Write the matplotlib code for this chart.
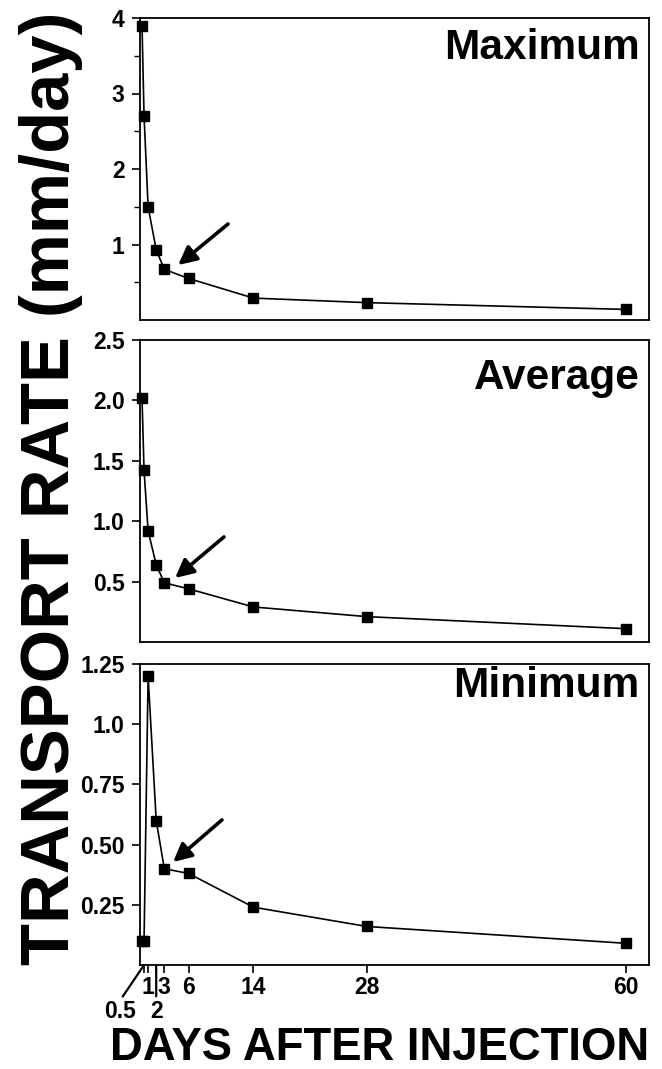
import matplotlib
matplotlib.use("Agg")
import matplotlib.pyplot as plt

# ---------------- data ----------------
days = [0.25, 0.5, 1, 2, 3, 6, 14, 28, 60]
maximum = [3.9, 2.7, 1.5, 0.93, 0.67, 0.55, 0.29, 0.23, 0.14]
average = [2.02, 1.42, 0.92, 0.64, 0.49, 0.44, 0.29, 0.21, 0.11]
minimum = [0.10, 0.10, 1.20, 0.60, 0.40, 0.38, 0.24, 0.16, 0.09]

panel_titles = ["Maximum", "Average", "Minimum"]
ylims = [4.0, 2.5, 1.25]
yticks_major = [[1, 2, 3, 4], [0.5, 1.0, 1.5, 2.0, 2.5], [0.25, 0.5, 0.75, 1.0, 1.25]]
yticklabels = [["1", "2", "3", "4"], ["0.5", "1.0", "1.5", "2.0", "2.5"],
               ["0.25", "0.50", "0.75", "1.0", "1.25"]]
xtick_days = [0.5, 1, 2, 3, 6, 14, 28, 60]
xtick_labels = ["0.5", "1", "2", "3", "6", "14", "28", "60"]
offset_labels = ["0.5", "2"]  # labels set on a second row with leader lines

ylabel_text = "TRANSPORT RATE (mm/day)"
xlabel_text = "DAYS AFTER INJECTION"

# ---------------- fonts ----------------
plt.rcParams['font.family'] = ['Liberation Sans', 'DejaVu Sans']

W, H = 662, 1069
fig = plt.figure(figsize=(W / 100, H / 100), dpi=100)

left = 140 / W
width = 509 / W
panels_px = [(18, 320), (340, 642), (664, 965)]
series = [maximum, average, minimum]
title_y = [0.90, 0.874, 0.927]
arrows = [((0.075, 0.182), (0.173, 0.318)),
          ((0.069, 0.212), (0.165, 0.348)),
          ((0.065, 0.342), (0.161, 0.482))]

TICKFS = 16.5

for i, ((top, bot), vals) in enumerate(zip(panels_px, series)):
    ax = fig.add_axes([left, 1 - bot / H, width, (bot - top) / H])
    ax.plot(days, vals, color='black', lw=1.2, marker='s', ms=6.5,
            mfc='black', mec='black', clip_on=False, zorder=3)
    ax.set_xlim(0, 62.8)
    ax.set_ylim(0, ylims[i])
    ax.set_yticks(yticks_major[i])
    ax.set_yticklabels(yticklabels[i], fontsize=TICKFS, fontweight='bold')
    if i == 0:
        ax.set_yticks([0.5, 1.5, 2.5, 3.5], minor=True)
        ax.tick_params(axis='y', which='minor', direction='out', length=4, width=1)
    ax.tick_params(axis='y', which='major', direction='out', length=6, width=1.2, pad=5)
    for s in ax.spines.values():
        s.set_linewidth(1.3)
    ax.text(0.982, title_y[i], panel_titles[i], transform=ax.transAxes,
            ha='right', va='center', fontsize=30.5, fontweight='bold')
    head, tail = arrows[i]
    ax.annotate("", xy=head, xycoords='axes fraction', xytext=tail,
                textcoords='axes fraction',
                arrowprops=dict(arrowstyle='-|>,head_length=1.1,head_width=0.55',
                                lw=2.6, color='black', shrinkA=0, shrinkB=0))
    if i < 2:
        ax.set_xticks([])
    else:
        ax.set_xticks(xtick_days)
        ax.set_xticklabels(["" if l in offset_labels else l for l in xtick_labels],
                           fontsize=TICKFS, fontweight='bold')
        ax.tick_params(axis='x', direction='out', length=6, width=1.2, pad=2)
        # second-row labels with leader lines
        for lab, dx in zip(offset_labels, [-24, 0]):
            xd = xtick_days[xtick_labels.index(lab)]
            ax.annotate(lab, xy=(xd, 0), xycoords=('data', 'axes fraction'),
                        xytext=(dx, -47), textcoords='offset pixels',
                        ha='center', va='center', fontsize=TICKFS, fontweight='bold',
                        annotation_clip=False,
                        arrowprops=dict(arrowstyle='-', lw=1.6, color='black',
                                        shrinkA=1, shrinkB=0, relpos=(0.5, 1.0)))

fig.text(51 / W, 1 - 488 / H, ylabel_text, rotation=90, ha='center', va='center',
         fontsize=49.5, fontweight='bold')

fig.text(380 / W, 1 - 1048 / H, xlabel_text, ha='center', va='center',
         fontsize=32.8, fontweight='bold')

fig.savefig("out.png", dpi=100)
